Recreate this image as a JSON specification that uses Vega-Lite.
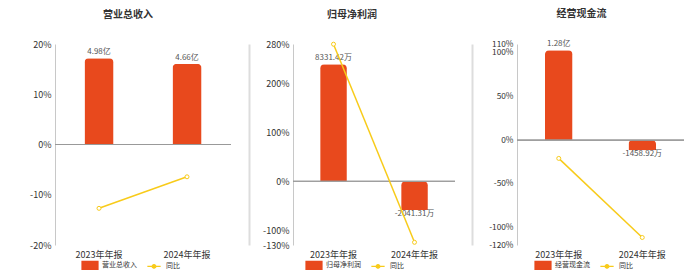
{
  "$schema": "https://vega.github.io/schema/vega-lite/v6.json",
  "background": "white",
  "padding": {"left": 29, "top": 9, "right": 0, "bottom": 0},
  "spacing": 62,
  "bounds": "flush",
  "resolve": {"scale": {"color": "independent"}, "legend": {"color": "independent"}},
  "config": {
    "view": {"stroke": null},
    "font": "Noto Sans CJK SC",
    "title": {"fontSize": 10, "fontWeight": "bold", "color": "#333333", "anchor": "middle", "offset": 20},
    "axisY": {"labelOverlap": false, "tickCount": 20}
  },
  "hconcat": [
    {
      "title": {"text": "营业总收入", "dx": -15},
      "width": 176,
      "height": 201,
      "data": {"values": [
        {"period": "2023年年报", "value": 4.98, "label": "4.98亿", "yoy": -12.7},
        {"period": "2024年年报", "value": 4.66, "label": "4.66亿", "yoy": -6.43}
      ]},
      "encoding": {"x": {"field": "period", "type": "nominal", "sort": null, "scale": {"paddingInner": 0, "paddingOuter": 0}, "axis": {"title": null, "domain": false, "ticks": false, "labelAngle": 0, "labelFontSize": 9, "labelColor": "#333333", "labelPadding": 5}}},
      "layer": [
        {"layer": [
          {"mark": {"type": "bar", "width": {"band": 0.33}, "cornerRadiusTopLeft": 4, "cornerRadiusTopRight": 4},
           "encoding": {
             "y": {"field": "value", "type": "quantitative", "scale": {"domain": [-5.81, 5.81], "nice": false}, "axis": {"orient": "right", "offset": 18, "labels": false, "ticks": false, "grid": false, "title": null, "domainColor": "#dddddd", "domainWidth": 2}},
             "color": {"datum": "营业总收入", "type": "nominal", "scale": {"domain": ["营业总收入", "同比"], "range": ["#E8491D", "#F8CB1A"]},
               "legend": {"orient": "none", "legendX": 26, "legendY": 212, "direction": "horizontal", "title": null, "symbolSize": 256, "labelFontSize": 7, "labelColor": "#333333", "labelOffset": 3, "columnPadding": 7, "padding": 0,
                 "encode": {"symbols": {"update": {
                   "shape": {"signal": "datum.value === '同比' ? 'M-0.83,0H-0.23M0.23,0H0.83M0.23,0A0.23,0.23,0,1,1,-0.23,0A0.23,0.23,0,1,1,0.23,0' : 'M-1,-0.5H1V0.5H-1Z'"},
                   "fill": {"signal": "datum.value === '同比' ? '#ffffff' : '#E8491D'"},
                   "stroke": {"signal": "datum.value === '同比' ? '#F8CB1A' : 'transparent'"},
                   "strokeWidth": {"value": 1.2}}}}}}}},
          {"transform": [{"filter": "datum.value >= 0"}],
           "mark": {"type": "text", "baseline": "bottom", "dy": -2, "fontSize": 8, "color": "#555555"},
           "encoding": {"y": {"field": "value", "type": "quantitative"}, "text": {"field": "label"}}},
          {"transform": [{"filter": "datum.value < 0"}],
           "mark": {"type": "text", "baseline": "top", "dy": 0, "fontSize": 8, "color": "#555555"},
           "encoding": {"y": {"field": "value", "type": "quantitative"}, "text": {"field": "label"}}}
        ]},
        {"layer": [
          {"mark": {"type": "rule", "color": "#999999", "strokeWidth": 1.2},
           "encoding": {"x": {"value": 0}, "x2": {"value": "width"}, "y": {"datum": 0, "type": "quantitative", "scale": {"domain": [-20, 20], "nice": false}, "axis": {"orient": "left", "values": [20, 10, 0, -10, -20], "tickCount": 20, "labelExpr": "datum.value + '%'", "title": null, "ticks": false, "domainColor": "#c8c8c8", "gridColor": "#E6EAF2", "labelFontSize": 9, "labelColor": "#333333", "labelPadding": 4}}}},
          {"mark": {"type": "line", "strokeWidth": 1.5},
           "encoding": {"y": {"field": "yoy", "type": "quantitative", "scale": {"domain": [-20, 20], "nice": false}, "axis": {"orient": "left", "values": [20, 10, 0, -10, -20], "tickCount": 20, "labelExpr": "datum.value + '%'", "title": null, "ticks": false, "domainColor": "#c8c8c8", "gridColor": "#E6EAF2", "labelFontSize": 9, "labelColor": "#333333", "labelPadding": 4}},
             "color": {"datum": "同比", "type": "nominal"}}},
          {"mark": {"type": "point", "filled": false, "fill": "#ffffff", "fillOpacity": 1, "stroke": "#F8CB1A", "strokeWidth": 1, "size": 16, "opacity": 1},
           "encoding": {"y": {"field": "yoy", "type": "quantitative"}}}
        ]}
      ],
      "resolve": {"scale": {"y": "independent"}}
    },
    {
      "title": {"text": "归母净利润", "dx": -22},
      "width": 162,
      "height": 201,
      "data": {"values": [
        {"period": "2023年年报", "value": 8331.42, "label": "8331.42万", "yoy": 279.6},
        {"period": "2024年年报", "value": -2041.31, "label": "-2041.31万", "yoy": -124.5}
      ]},
      "encoding": {"x": {"field": "period", "type": "nominal", "sort": null, "scale": {"paddingInner": 0, "paddingOuter": 0}, "axis": {"title": null, "domain": false, "ticks": false, "labelAngle": 0, "labelFontSize": 9, "labelColor": "#333333", "labelPadding": 5}}},
      "layer": [
        {"layer": [
          {"mark": {"type": "bar", "width": {"band": 0.33}, "cornerRadiusTopLeft": 4, "cornerRadiusTopRight": 4},
           "encoding": {
             "y": {"field": "value", "type": "quantitative", "scale": {"domain": [-4536, 9777], "nice": false}, "axis": {"orient": "right", "offset": 17, "labels": false, "ticks": false, "grid": false, "title": null, "domainColor": "#dddddd", "domainWidth": 2}},
             "color": {"datum": "归母净利润", "type": "nominal", "scale": {"domain": ["归母净利润", "同比"], "range": ["#E8491D", "#F8CB1A"]},
               "legend": {"orient": "none", "legendX": 12, "legendY": 212, "direction": "horizontal", "title": null, "symbolSize": 256, "labelFontSize": 7, "labelColor": "#333333", "labelOffset": 3, "columnPadding": 7, "padding": 0,
                 "encode": {"symbols": {"update": {
                   "shape": {"signal": "datum.value === '同比' ? 'M-0.83,0H-0.23M0.23,0H0.83M0.23,0A0.23,0.23,0,1,1,-0.23,0A0.23,0.23,0,1,1,0.23,0' : 'M-1,-0.5H1V0.5H-1Z'"},
                   "fill": {"signal": "datum.value === '同比' ? '#ffffff' : '#E8491D'"},
                   "stroke": {"signal": "datum.value === '同比' ? '#F8CB1A' : 'transparent'"},
                   "strokeWidth": {"value": 1.2}}}}}}}},
          {"transform": [{"filter": "datum.value >= 0"}],
           "mark": {"type": "text", "baseline": "bottom", "dy": -2, "fontSize": 8, "color": "#555555"},
           "encoding": {"y": {"field": "value", "type": "quantitative"}, "text": {"field": "label"}}},
          {"transform": [{"filter": "datum.value < 0"}],
           "mark": {"type": "text", "baseline": "top", "dy": 0, "fontSize": 8, "color": "#555555"},
           "encoding": {"y": {"field": "value", "type": "quantitative"}, "text": {"field": "label"}}}
        ]},
        {"layer": [
          {"mark": {"type": "rule", "color": "#999999", "strokeWidth": 1.2},
           "encoding": {"x": {"value": 0}, "x2": {"value": "width"}, "y": {"datum": 0, "type": "quantitative", "scale": {"domain": [-130, 280], "nice": false}, "axis": {"orient": "left", "values": [280, 200, 100, 0, -100, -130], "tickCount": 20, "labelExpr": "datum.value + '%'", "title": null, "ticks": false, "domainColor": "#c8c8c8", "gridColor": "#E6EAF2", "labelFontSize": 9, "labelColor": "#333333", "labelPadding": 4}}}},
          {"mark": {"type": "line", "strokeWidth": 1.5},
           "encoding": {"y": {"field": "yoy", "type": "quantitative", "scale": {"domain": [-130, 280], "nice": false}, "axis": {"orient": "left", "values": [280, 200, 100, 0, -100, -130], "tickCount": 20, "labelExpr": "datum.value + '%'", "title": null, "ticks": false, "domainColor": "#c8c8c8", "gridColor": "#E6EAF2", "labelFontSize": 9, "labelColor": "#333333", "labelPadding": 4}},
             "color": {"datum": "同比", "type": "nominal"}}},
          {"mark": {"type": "point", "filled": false, "fill": "#ffffff", "fillOpacity": 1, "stroke": "#F8CB1A", "strokeWidth": 1, "size": 16, "opacity": 1},
           "encoding": {"y": {"field": "yoy", "type": "quantitative"}}}
        ]}
      ],
      "resolve": {"scale": {"y": "independent"}}
    },
    {
      "title": {"text": "经营现金流", "dx": -19},
      "width": 167,
      "height": 201,
      "data": {"values": [
        {"period": "2023年年报", "value": 12800, "label": "1.28亿", "yoy": -20.9},
        {"period": "2024年年报", "value": -1458.92, "label": "-1458.92万", "yoy": -111.4}
      ]},
      "encoding": {"x": {"field": "period", "type": "nominal", "sort": null, "scale": {"paddingInner": 0, "paddingOuter": 0}, "axis": {"title": null, "domain": false, "ticks": false, "labelAngle": 0, "labelFontSize": 9, "labelColor": "#333333", "labelPadding": 5}}},
      "layer": [
        {"layer": [
          {"mark": {"type": "bar", "width": {"band": 0.33}, "cornerRadiusTopLeft": 4, "cornerRadiusTopRight": 4},
           "encoding": {
             "y": {"field": "value", "type": "quantitative", "scale": {"domain": [-14952, 13698], "nice": false}, "axis": null},
             "color": {"datum": "经营现金流", "type": "nominal", "scale": {"domain": ["经营现金流", "同比"], "range": ["#E8491D", "#F8CB1A"]},
               "legend": {"orient": "none", "legendX": 17, "legendY": 212, "direction": "horizontal", "title": null, "symbolSize": 256, "labelFontSize": 7, "labelColor": "#333333", "labelOffset": 3, "columnPadding": 7, "padding": 0,
                 "encode": {"symbols": {"update": {
                   "shape": {"signal": "datum.value === '同比' ? 'M-0.83,0H-0.23M0.23,0H0.83M0.23,0A0.23,0.23,0,1,1,-0.23,0A0.23,0.23,0,1,1,0.23,0' : 'M-1,-0.5H1V0.5H-1Z'"},
                   "fill": {"signal": "datum.value === '同比' ? '#ffffff' : '#E8491D'"},
                   "stroke": {"signal": "datum.value === '同比' ? '#F8CB1A' : 'transparent'"},
                   "strokeWidth": {"value": 1.2}}}}}}}},
          {"transform": [{"filter": "datum.value >= 0"}],
           "mark": {"type": "text", "baseline": "bottom", "dy": -2, "fontSize": 8, "color": "#555555"},
           "encoding": {"y": {"field": "value", "type": "quantitative"}, "text": {"field": "label"}}},
          {"transform": [{"filter": "datum.value < 0"}],
           "mark": {"type": "text", "baseline": "top", "dy": 0, "fontSize": 8, "color": "#555555"},
           "encoding": {"y": {"field": "value", "type": "quantitative"}, "text": {"field": "label"}}}
        ]},
        {"layer": [
          {"mark": {"type": "rule", "color": "#999999", "strokeWidth": 1.2},
           "encoding": {"x": {"value": 0}, "x2": {"value": "width"}, "y": {"datum": 0, "type": "quantitative", "scale": {"domain": [-120, 110], "nice": false}, "axis": {"orient": "left", "values": [110, 100, 50, 0, -50, -100, -120], "tickCount": 20, "labelExpr": "datum.value + '%'", "title": null, "ticks": false, "domainColor": "#c8c8c8", "gridColor": "#E6EAF2", "labelFontSize": 8.3, "labelColor": "#333333", "labelPadding": 4, "labelOverlap": false, "labelFlush": false}}}},
          {"mark": {"type": "line", "strokeWidth": 1.5},
           "encoding": {"y": {"field": "yoy", "type": "quantitative", "scale": {"domain": [-120, 110], "nice": false}, "axis": {"orient": "left", "values": [110, 100, 50, 0, -50, -100, -120], "tickCount": 20, "labelExpr": "datum.value + '%'", "title": null, "ticks": false, "domainColor": "#c8c8c8", "gridColor": "#E6EAF2", "labelFontSize": 8.3, "labelColor": "#333333", "labelPadding": 4, "labelOverlap": false, "labelFlush": false}},
             "color": {"datum": "同比", "type": "nominal"}}},
          {"mark": {"type": "point", "filled": false, "fill": "#ffffff", "fillOpacity": 1, "stroke": "#F8CB1A", "strokeWidth": 1, "size": 16, "opacity": 1},
           "encoding": {"y": {"field": "yoy", "type": "quantitative"}}}
        ]}
      ],
      "resolve": {"scale": {"y": "independent"}}
    }
  ]
}
